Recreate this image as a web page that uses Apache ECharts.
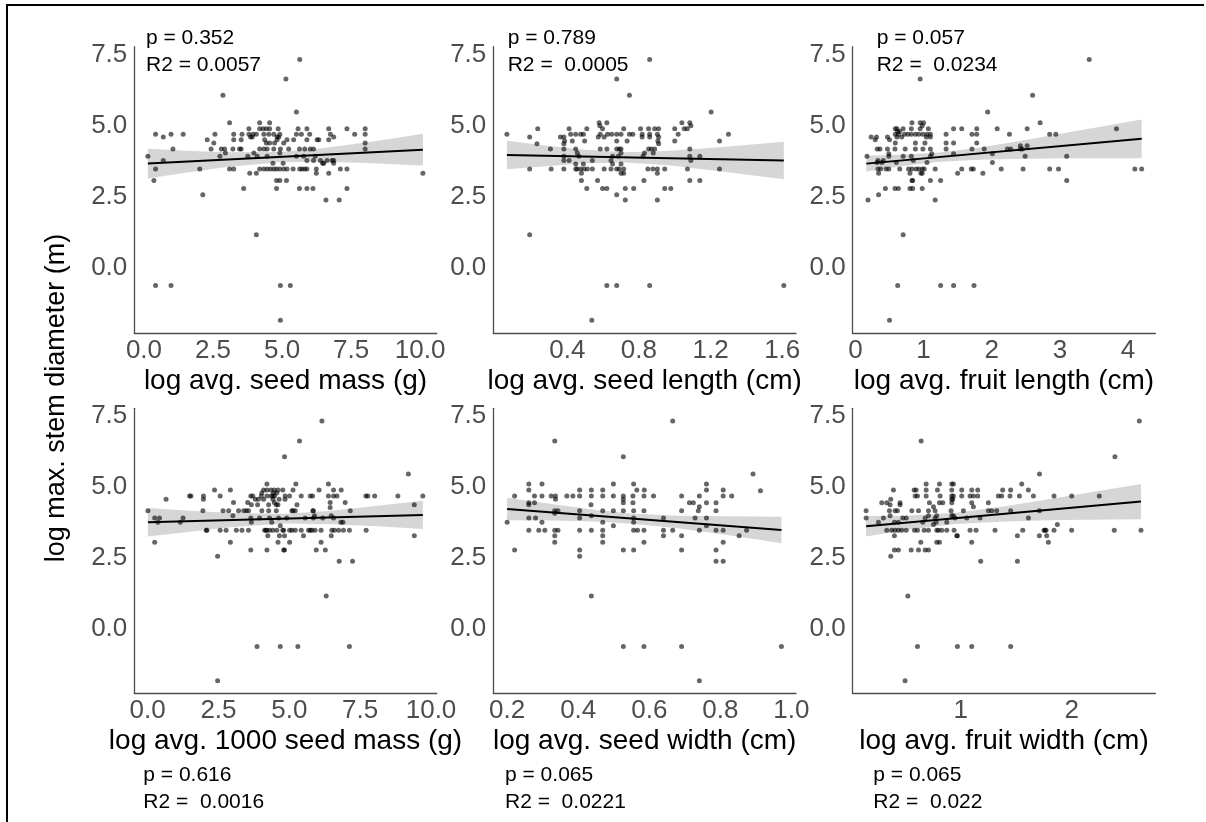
<!DOCTYPE html>
<html><head><meta charset="utf-8">
<script src="https://cdn.jsdelivr.net/npm/echarts@6/dist/echarts.min.js"></script>
<style>html,body{margin:0;padding:0;background:#fff}#c{width:1206px;height:822px}</style>
</head><body><div id="c"></div>
<script>
// ---------- DATA (rows: [y, [x values at that y]]) ----------
const seedMassRows = [
 [7.32,[5.64]],[6.64,[5.14]],[6.07,[2.86]],[5.48,[5.52]],[5.10,[3.10,4.19,4.55]],
 [4.89,[3.80,4.19,4.31,4.43,4.55,4.86,5.58,5.90,6.69,7.35,8.01]],
 [4.70,[0.42,0.98,1.42,2.57,3.25,3.55,3.80,3.95,4.07,4.34,4.52,4.70,4.92,5.52,5.70,6.00,6.75,7.63,8.01]],
 [4.60,[0.70,3.86,3.92,4.82,4.88,6.87]],
 [4.51,[2.29,3.25,3.52,4.37,4.82,5.18,5.42,5.90,6.27,6.33,6.69]],
 [4.39,[2.53,4.43,4.55,4.73,5.06,8.01]],
 [4.18,[1.05,2.43,2.80,2.92,3.22,3.46,3.52,4.19,4.34,4.46,4.70,4.94,5.24,5.63,5.82,6.02,6.14,8.01]],
 [4.04,[2.95,3.98,4.92]],
 [3.93,[0.14,2.75,3.76,4.10,4.46,5.52,5.78,6.20]],
 [3.78,[0.70,5.90,6.14,6.39,6.63,6.81,6.87]],
 [3.68,[4.67,5.04,6.47,6.51,6.87]],
 [3.48,[0.42,2.02,3.10,3.25,4.19,4.34,4.46,4.58,4.70,4.80,4.92,5.06,5.18,5.40,5.64,5.72,5.82,5.90,6.24,7.11,7.35]],
 [3.33,[3.83,4.07,6.24,6.69,10.1]],
 [3.08,[0.36,4.80,4.92,5.16]],
 [2.80,[3.61,4.80,5.63,5.90,6.12,7.35]],
 [2.58,[2.13]],[2.39,[6.59,7.07]],[1.18,[4.07]],
 [-0.60,[0.42,0.98,4.94,5.30]],[-1.82,[4.94]]
];
const seedLengthRows = [
 [7.32,[0.86]],[6.64,[0.676]],[6.07,[0.747]],[5.48,[1.203]],
 [5.10,[0.578,0.621,1.04,1.084]],[5.00,[0.582,1.09]],
 [4.89,[0.235,0.41,0.509,0.597,0.715,0.809,0.854,0.888,0.91,1.0,1.053,1.07]],
 [4.70,[0.063,0.419,0.447,0.475,0.49,0.584,0.625,0.648,0.676,0.70,0.747,0.766,0.818,0.86,0.903,1.019,1.30]],
 [4.60,[0.19,0.362,0.381,0.573,0.606,0.818,0.86,0.91]],
 [4.46,[0.385,0.428,0.497,0.676,0.734,0.906,1.0,1.25]],
 [4.37,[0.231,0.381,0.91]],
 [4.18,[0.306,0.381,0.447,0.584,0.621,0.676,0.69,0.70,0.854,0.869,0.888,1.084]],
 [4.04,[0.456,0.70,0.831,0.88]],
 [3.93,[0.381,0.465,0.653,0.685,0.823,1.084,1.14]],
 [3.78,[0.381,0.41,0.54,0.644,1.09]],
 [3.66,[0.447,0.49,0.653,0.70]],
 [3.48,[0.19,0.31,0.381,0.447,0.456,0.475,0.494,0.512,0.54,0.606,0.644,0.676,0.69,0.715,0.85,0.878,0.903,0.944,1.071,1.25]],
 [3.33,[0.479,0.70,0.715,0.903]],
 [3.08,[0.479,0.569,0.828,1.084,1.14]],
 [2.80,[0.509,0.597,0.621,0.724,0.771,0.944,0.978]],
 [2.58,[0.676]],[2.39,[0.724,0.903]],[1.18,[0.19]],
 [-0.60,[0.621,0.676,0.86,1.609]],[-1.82,[0.537]]
];
const fruitLengthRows = [
 [7.32,[3.43]],[6.64,[0.95]],[6.07,[2.60]],[5.48,[1.94]],
 [5.10,[0.83,0.95,1.0,2.71]],[5.00,[0.98]],
 [4.89,[0.585,0.61,0.70,0.82,0.95,1.07,1.44,1.56,1.78,2.08,2.52,3.83]],
 [4.80,[0.62,0.65]],
 [4.70,[0.585,0.63,0.72,0.77,0.82,0.88,0.93,0.99,1.05,1.10,1.33,1.71,1.78,2.26,2.85,2.94]],
 [4.60,[0.23,0.31,0.47,0.61,0.68,1.04,1.10]],
 [4.51,[0.29,0.50]],
 [4.39,[0.585,0.88,1.02,1.33,1.44,1.78]],
 [4.30,[2.42,2.52]],
 [4.18,[0.32,0.36,0.47,0.58,0.73,0.88,0.99,1.10,1.33,1.71,1.89,2.23,2.28,2.42,2.45]],
 [4.02,[0.49,1.12,1.44,2.01]],
 [3.93,[0.17,0.49,0.70,0.82,1.10,2.49,3.10]],
 [3.78,[0.33,0.41,0.85]],
 [3.71,[0.32,0.39,0.60,1.05,2.01]],
 [3.48,[0.33,0.37,0.45,0.49,0.65,0.78,0.83,0.89,0.93,0.98,1.01,1.17,1.56,1.70,1.73,2.14,2.46,2.85,2.98,4.10,4.20]],
 [3.33,[0.34,0.80,0.96,0.98,1.50,1.87]],
 [3.08,[0.83,0.84,1.10,1.25,3.10]],
 [2.80,[0.44,0.58,0.63,0.80,0.84,0.98]],
 [2.58,[0.34]],[2.39,[0.185,1.17]],[1.18,[0.70]],
 [-0.60,[0.62,1.25,1.44,1.74]],[-1.82,[0.50]]
];
const thousandSeedMassRows = [
 [7.32,[6.15]],[6.62,[5.36]],[6.06,[4.83]],[5.45,[9.20]],[5.10,[4.21,5.23,6.38]],
 [4.89,[2.36,2.92,4.09,4.21,4.35,4.47,4.60,4.77,5.13,6.05,6.56,6.83]],
 [4.78,[4.03,4.44,4.56]],
 [4.68,[1.48,1.53,1.97,2.56,3.64,3.71,4.01,4.21,4.36,4.42,4.48,4.85,5.01,5.42,5.74,5.82,6.38,6.56,6.68,7.70,7.77,8.01,8.83,9.71]],
 [4.56,[0.65,1.97,3.80,3.91,4.09,4.42,4.64,4.85]],
 [4.45,[3.03,3.53,4.47,6.44,6.97]],
 [4.37,[3.66,3.88,4.27,4.54,4.60,5.27,9.41]],
 [4.27,[6.44]],
 [4.16,[0.01,1.95,2.66,2.86,3.21,3.39,3.48,3.56,4.03,4.27,4.54,5.09,5.13,5.21,5.83,5.85,7.15]],
 [3.98,[3.01,5.89,6.48]],
 [3.90,[0.25,0.42,1.25,3.64,3.95,4.30,4.62,4.91,5.56,5.85,6.18,6.56]],
 [3.75,[0.36,1.15,3.66,4.38,6.82,6.89]],
 [3.63,[4.68]],
 [3.47,[2.07,2.09,2.56,2.77,3.13,3.33,3.56,4.13,4.17,4.21,4.30,4.42,4.56,4.77,4.80,5.01,5.09,5.21,5.42,5.68,5.74,5.80,5.91,6.12,6.50,6.59,6.74,6.91,7.12,7.71]],
 [3.28,[4.24,4.65,4.83,5.50,6.48,9.41]],
 [3.05,[0.25,2.92,4.60,5.01,6.12]],
 [2.77,[3.64,4.21,4.80,4.83,5.95,6.27]],
 [2.55,[2.47]],[2.38,[6.76,7.23]],[1.15,[6.30]],
 [-0.63,[3.86,4.68,5.30,7.12]],[-1.84,[2.47]]
];
const seedWidthRows = [
 [7.32,[0.666]],[6.62,[0.334]],[6.06,[0.527]],[5.45,[0.892]],
 [5.10,[0.261,0.298,0.499,0.556,0.761]],
 [4.89,[0.261,0.404,0.437,0.469,0.565,0.586,0.761,0.808]],
 [4.86,[0.913]],
 [4.68,[0.221,0.277,0.298,0.324,0.336,0.368,0.385,0.404,0.437,0.469,0.499,0.527,0.554,0.585,0.612,0.691,0.741,0.808,0.832]],
 [4.56,[0.336,0.527]],
 [4.44,[0.261,0.277,0.527,0.554,0.713,0.724,0.761,0.788]],
 [4.37,[0.261,0.436]],[4.30,[0.741]],
 [4.16,[0.334,0.343,0.404,0.469,0.499,0.527,0.556,0.585,0.691,0.738,0.788]],
 [4.07,[0.334]],[3.98,[0.437]],
 [3.90,[0.261,0.280,0.404,0.556,0.640,0.729,0.761]],
 [3.75,[0.2,0.298,0.469,0.556]],
 [3.63,[0.499,0.761]],
 [3.47,[0.261,0.289,0.306,0.334,0.343,0.404,0.437,0.469,0.556,0.567,0.585,0.640,0.666,0.741,0.788,0.808,0.874]],
 [3.28,[0.334,0.469,0.640,0.691,0.853]],
 [3.05,[0.334,0.469,0.585,0.808]],
 [2.77,[0.221,0.404,0.527,0.556,0.691,0.788]],
 [2.55,[0.404]],[2.38,[0.788,0.808]],[1.15,[0.437]],
 [-0.63,[0.527,0.585,0.691,0.972]],[-1.84,[0.741]]
];
const fruitWidthRows = [
 [7.32,[2.61]],[6.62,[0.643]],[6.06,[2.39]],[5.45,[1.71]],
 [5.10,[0.688,0.808,0.919,0.934,1.55]],
 [4.89,[0.393,0.580,0.598,0.688,0.790,0.919,1.009,1.099,1.153,1.378,1.450,1.610]],
 [4.68,[0.589,0.610,0.688,0.814,0.919,0.934,1.009,1.084,1.114,1.153,1.339,1.369,1.444,1.529,1.655,1.841,2.0,2.249]],
 [4.56,[0.369,0.919,0.928]],
 [4.44,[0.288,0.333,0.453,0.718,0.808,0.838,0.919,1.099,1.249]],
 [4.37,[0.363,0.453]],[4.30,[0.754,1.114]],
 [4.16,[0.147,0.357,0.408,0.429,0.559,0.619,0.709,0.769,0.913,1.024,1.249,1.279,1.324,1.450,1.709]],
 [3.98,[0.363,0.709,0.784,0.919,0.934]],
 [3.90,[0.147,0.303,0.477,0.508,0.679,0.769,0.949,1.054,1.174,1.610]],
 [3.75,[0.258,0.402,0.438,0.658,0.778,0.874]],
 [3.67,[0.754,1.871]],
 [3.47,[0.333,0.378,0.408,0.438,0.468,0.508,0.583,0.610,0.670,0.709,0.784,0.799,0.829,0.874,0.940,1.084,1.138,1.309,1.559,1.751,1.760,1.769,1.841,2.0,2.384,2.625]],
 [3.28,[0.402,0.964,0.970,1.511,1.709,1.775]],
 [3.05,[0.640,0.784,0.808,1.099,1.790]],
 [2.77,[0.402,0.438,0.553,0.619,0.679,0.709]],
 [2.55,[0.369]],[2.38,[1.180,1.511]],[1.15,[0.523]],
 [-0.63,[0.610,0.970,1.099,1.450]],[-1.84,[0.498]]
];

// fitted lines (end points) and confidence bands
const fitX = [[0.14,10.1],[0.063,1.609],[0.16,4.2],[0.01,9.71],[0.2,0.972],[0.147,2.625]];
const fitY = [[3.67,4.16],[3.97,3.78],[3.67,4.54],[3.75,4.01],[4.22,3.48],[3.61,4.48]];
const bandX = [
 [0.14,1.5,3.0,4.9,6.5,8.3,10.1],
 [0.063,0.3,0.5,0.72,0.95,1.25,1.609],
 [0.16,0.7,1.2,1.8,2.5,3.3,4.2],
 [0.01,1.5,3.0,4.85,6.5,8.1,9.71],
 [0.2,0.33,0.45,0.55,0.68,0.82,0.972],
 [0.147,0.5,0.95,1.4,1.9,2.625]
];
const bandLo = [
 [3.15,3.35,3.55,3.72,3.74,3.68,3.60],
 [3.47,3.59,3.68,3.71,3.62,3.40,3.12],
 [3.39,3.59,3.73,3.81,3.84,3.86,3.86],
 [3.25,3.42,3.58,3.71,3.68,3.61,3.51],
 [3.82,3.81,3.78,3.70,3.54,3.30,3.01],
 [3.25,3.48,3.69,3.78,3.83,3.86]
];
const bandHi = [
 [4.19,4.12,4.07,4.08,4.22,4.45,4.72],
 [4.47,4.29,4.16,4.07,4.11,4.24,4.44],
 [3.95,3.99,4.05,4.23,4.50,4.84,5.22],
 [4.25,4.16,4.08,4.05,4.16,4.33,4.51],
 [4.62,4.39,4.18,4.06,3.98,3.96,3.95],
 [3.97,3.98,4.09,4.32,4.63,5.10]
];

const xTitles = ['log avg. seed mass (g)','log avg. seed length (cm)','log avg. fruit length (cm)',
                 'log avg. 1000 seed mass (g)','log avg. seed width (cm)','log avg. fruit width (cm)'];
const xTicks = [[0,2.5,5,7.5,10],[0.4,0.8,1.2,1.6],[0,1,2,3,4],[0,2.5,5,7.5,10],[0.2,0.4,0.6,0.8,1.0],[1,2]];
const xDecimals = [1,1,0,1,1,0];
const xRange = [[-0.35,10.6],[-0.013,1.677],[-0.04,4.4],[-0.47,10.2],[0.161,1.013],[0.026,2.754]];
const yTicks = [0,2.5,5,7.5];
const yRange = [-2.28,7.77];
const pTexts = ['p = 0.352','p = 0.789','p = 0.057','p = 0.616','p = 0.065','p = 0.065'];
const r2Texts = ['R2 = 0.0057','R2 =  0.0005','R2 =  0.0234','R2 =  0.0016','R2 =  0.0221','R2 =  0.022'];
const yTitle = 'log max. stem diameter (m)';
const allRows = [seedMassRows,seedLengthRows,fruitLengthRows,thousandSeedMassRows,seedWidthRows,fruitWidthRows];

// ---------- LAYOUT ----------
const gridPos = [
 {left:134.3,top:46.7,width:302.4,height:286.6},
 {left:493.3,top:46.7,width:302.7,height:286.6},
 {left:852.7,top:46.7,width:302.6,height:286.6},
 {left:134.3,top:408.3,width:302.4,height:285},
 {left:493.3,top:408.3,width:302.7,height:285},
 {left:852.7,top:408.3,width:302.6,height:285}
];
const textPos = [[146,40,67],[507.7,40,67],[876.7,40,67],[143.3,776.7,804],[505,776.7,804],[873.3,776.7,804]];
const FONT = '"Liberation Sans", Arial, sans-serif';
const AX = '#4d4d4d';

const grids=[], xAxes=[], yAxes=[], series=[], graphics=[];
for (let i=0;i<6;i++){
  grids.push(Object.assign({containLabel:false}, gridPos[i]));
  const dec = xDecimals[i];
  xAxes.push({type:'value', gridIndex:i, min:xRange[i][0], max:xRange[i][1],
    axisLine:{show:true,onZero:false,lineStyle:{color:AX,width:1.3}},
    axisTick:{show:false}, splitLine:{show:false},
    axisLabel:{customValues:xTicks[i], formatter:v=>Number(v).toFixed(dec), color:AX, fontSize:26, fontFamily:FONT, margin:5},
    name:xTitles[i], nameLocation:'middle', nameGap:34,
    nameTextStyle:{color:'#000', fontSize:28, fontFamily:FONT}
  });
  yAxes.push({type:'value', gridIndex:i, min:yRange[0], max:yRange[1],
    axisLine:{show:true,onZero:false,lineStyle:{color:AX,width:1.3}},
    axisTick:{show:false}, splitLine:{show:false},
    axisLabel:{customValues:yTicks, formatter:v=>Number(v).toFixed(1), color:AX, fontSize:26, fontFamily:FONT, margin:7}
  });
  const bx=bandX[i], blo=bandLo[i], bhi=bandHi[i];
  series.push({type:'custom', xAxisIndex:i, yAxisIndex:i, silent:true, z:1,
    data:[[bx[0],blo[0]]],
    renderItem:(params,api)=>{
      const up = bx.map((x,k)=>api.coord([x,bhi[k]]));
      const dn = bx.map((x,k)=>api.coord([x,blo[k]])).reverse();
      return {type:'polygon', shape:{points:up.concat(dn)}, style:{fill:'#d6d6d6'}};
    }});
  const pts=[];
  allRows[i].forEach(r=>r[1].forEach(x=>pts.push([x,r[0]])));
  series.push({type:'scatter', xAxisIndex:i, yAxisIndex:i, data:pts, symbol:'circle', symbolSize:5,
    itemStyle:{color:'rgba(0,0,0,0.75)'}, silent:true, z:2});
  series.push({type:'line', xAxisIndex:i, yAxisIndex:i, data:[[fitX[i][0],fitY[i][0]],[fitX[i][1],fitY[i][1]]],
    symbol:'none', lineStyle:{color:'#000',width:2}, silent:true, z:3});
  const tp = textPos[i];
  graphics.push({type:'text', left:tp[0], top:tp[1]-12, style:{text:pTexts[i], fill:'#000', font:'21px '+FONT}});
  graphics.push({type:'text', left:tp[0], top:tp[2]-12, style:{text:r2Texts[i], fill:'#000', font:'21px '+FONT}});
}
graphics.push({type:'line', shape:{x1:6,y1:5,x2:1204,y2:5}, style:{stroke:'#000',lineWidth:2}});
graphics.push({type:'line', shape:{x1:7,y1:4,x2:7,y2:822}, style:{stroke:'#000',lineWidth:2}});
graphics.push({type:'text', x:57, y:398, rotation:Math.PI/2,
  style:{text:yTitle, fill:'#000', font:'27px '+FONT, align:'center', verticalAlign:'middle'}});

const chart = echarts.init(document.getElementById('c'), null, {renderer:'canvas'});
chart.setOption({animation:false, backgroundColor:'#fff', grid:grids, xAxis:xAxes, yAxis:yAxes, series, graphic:graphics});
</script></body></html>
